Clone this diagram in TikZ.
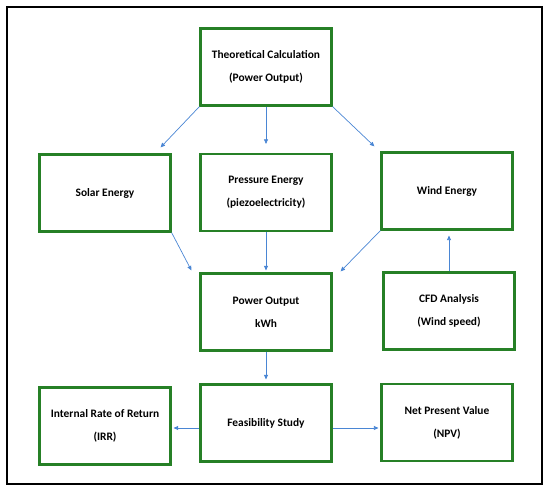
\documentclass[tikz,border=0pt]{standalone}
\usepackage{fontspec}
\setmainfont{Carlito}
\usetikzlibrary{arrows.meta}

\definecolor{boxgreen}{RGB}{38,128,38}
\definecolor{flowblue}{RGB}{74,134,212}

\begin{document}
\begin{tikzpicture}[x=1pt, y=-1pt,
    box/.style={draw=boxgreen, line width=2.2pt, fill=white, minimum width=131pt, minimum height=77pt,
        align=center, inner sep=0pt, font=\bfseries\fontsize{11.4}{23}\selectfont},
    flow/.style={draw=flowblue, line width=0.7pt, -{Triangle[length=4.5pt,width=4pt]}}]
    % Frame
    \useasboundingbox (0,0) rectangle (550,494);
    \draw[line width=2.6pt] (7,7) rectangle (542,484);

    % Boxes
    \node[box] (theo) at (266,67) {Theoretical Calculation\\(Power Output)};
    \node[box] (solar) at (105,193) {Solar Energy};
    \node[box] (press) at (266,192.5) {Pressure Energy\\(piezoelectricity)};
    \node[box] (wind) at (447,191) {Wind Energy};
    \node[box] (power) at (266,312) {Power Output\\kWh};
    \node[box] (cfd) at (449,311) {CFD Analysis\\(Wind speed)};
    \node[box] (irr) at (105,426) {Internal Rate of Return\\(IRR)};
    \node[box] (feas) at (266,423) {Feasibility Study};
    \node[box] (npv) at (447,422.5) {Net Present Value\\(NPV)};

    % Arrows from the calculation
    \draw[flow] (theo.south west) -- ([xshift=-11pt,yshift=6pt]solar.north east);
    \draw[flow, shorten >=9pt] (theo.south) -- (press.north);
    \draw[flow] (theo.south east) -- ([xshift=-6pt,yshift=5pt]wind.north west);

    % Arrows into the power output
    \draw[flow] (solar.south east) -- ([xshift=-8pt,yshift=2pt]power.north west);
    \draw[flow, shorten >=2pt] (press.south) -- (power.north);
    \draw[flow] (wind.south west) -- ([xshift=8pt,yshift=1pt]power.north east);
    \draw[flow, shorten >=5pt] (cfd.north) -- (cfd.north |- wind.south);

    % Feasibility
    \draw[flow, shorten >=4pt] (power.south) -- (feas.north);
    \coordinate (fw) at ([yshift=-5pt]feas.west);
    \coordinate (fe) at ([yshift=-5pt]feas.east);
    \draw[flow, shorten >=2pt] (fw) -- (fw -| irr.east);
    \draw[flow, shorten >=2pt] (fe) -- (fe -| npv.west);
\end{tikzpicture}
\end{document}
